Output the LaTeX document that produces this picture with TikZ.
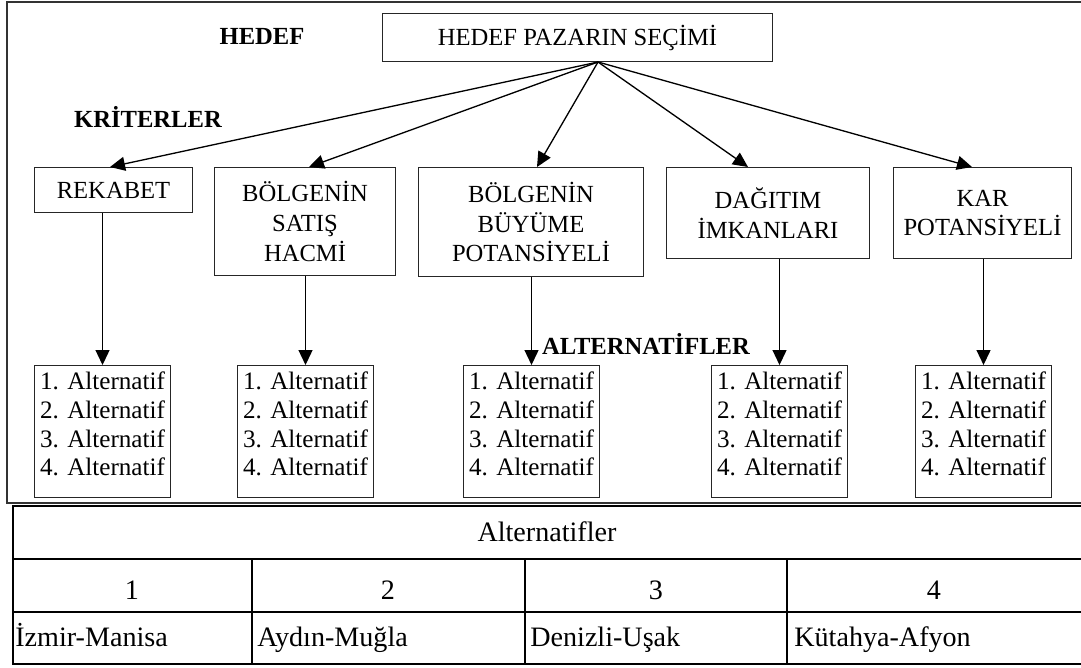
\documentclass[tikz,border=0pt]{standalone}
\usepackage{fontspec}
\setmainfont{Liberation Serif}
\usetikzlibrary{arrows.meta}
\tikzset{
  kutu/.style={draw=black!85, line width=0.6pt, align=center, anchor=north west,
    inner sep=2pt},
  secenek/.style={kutu, minimum width=2.72cm, minimum height=2.64cm,
    font=\fontsize{14.3}{16.3}\selectfont, text depth=0.3cm},
  baslik/.style={font=\fontsize{14}{17}\selectfont\bfseries},
  ok/.style={-{Triangle[length=3mm, width=2.8mm]}, line width=0.75pt},
  cizgi/.style={line width=0.8pt},
  tablo/.style={font=\fontsize{16}{19}\selectfont},
  hucre/.style={tablo, anchor=base west, inner sep=0pt},
}
\begin{document}
\begin{tikzpicture}[x=0.02cm, y=-0.02cm, font=\fontsize{14}{17}\selectfont]
  \useasboundingbox (0,0) rectangle (1081,667);
  \draw[line width=1.3pt, black!80] (1081,2) -- (7,2) -- (7,503) -- (1081,503);

  \node[kutu, minimum width=7.8cm, minimum height=0.96cm] (hedef) at (382,13) {HEDEF PAZARIN SEÇİMİ};
  \node[baslik] (hedefyazi) at (262,36) {HEDEF};
  \node[baslik] (kriteryazi) at (148,117) {KRİTERLER};
  \node[baslik] (alternatifyazi) at (646,344) {ALTERNATİFLER};

  \node[kutu, minimum width=3.16cm, minimum height=0.9cm] (rekabet) at (34,167) {REKABET};
  \node[kutu, minimum width=3.62cm, minimum height=2.16cm] (hacim) at (214,167) {BÖLGENİN\\SATIŞ\\HACMİ};
  \node[kutu, minimum width=4.5cm, minimum height=2.18cm] (buyume) at (418,167) {BÖLGENİN\\BÜYÜME\\POTANSİYELİ};
  \node[kutu, minimum width=4.06cm, minimum height=1.82cm] (dagitim) at (666,167) {DAĞITIM\\İMKANLARI};
  \node[kutu, minimum width=3.56cm, minimum height=1.82cm] (kar) at (893,167) {KAR\\POTANSİYELİ};

  \foreach \x/\n in {34/1, 237/2, 463/3, 711/4, 915/5}
    \node[secenek] (alt\n) at (\x,365) {1. Alternatif\\2. Alternatif\\3. Alternatif\\4. Alternatif};

  \coordinate (merkez) at (598,62);
  \draw[ok] (merkez) -- (rekabet.north -| 110,0);
  \draw[ok] (merkez) -- (hacim.north -| 309,0);
  \draw[ok] (merkez) -- (buyume.north -| 537,0);
  \draw[ok] (merkez) -- (dagitim.north -| 748,0);
  \draw[ok] (merkez) -- (kar.north -| 972,0);

  \draw[ok] (alt1.north |- rekabet.south) -- (alt1.north);
  \draw[ok] (alt2.north |- hacim.south) -- (alt2.north);
  \draw[ok] (alt3.north |- buyume.south) -- (alt3.north);
  \draw[ok] (alt4.north |- dagitim.south) -- (alt4.north);
  \draw[ok] (alt5.north |- kar.south) -- (alt5.north);

  \draw[cizgi] (1081,506) -- (13,506) -- (13,664) -- (1081,664);
  \draw[cizgi] (13,559) -- (1081,559);
  \draw[cizgi, line width=1.1pt] (13,612) -- (1081,612);
  \foreach \x in {252, 525, 787}
    \draw[cizgi] (\x,559) -- (\x,664);

  \node[tablo] (alternatifler) at (547,532) {Alternatifler};
  \foreach \x/\n in {132/1, 388/2, 656/3, 934/4}
    \node[tablo] (no\n) at (\x,590) {\n};
  \node[hucre] (il1) at (15,646) {İzmir-Manisa};
  \node[hucre] (il2) at (257,646) {Aydın-Muğla};
  \node[hucre] (il3) at (530,646) {Denizli-Uşak};
  \node[hucre] (il4) at (794,646) {Kütahya-Afyon};
\end{tikzpicture}
\end{document}
